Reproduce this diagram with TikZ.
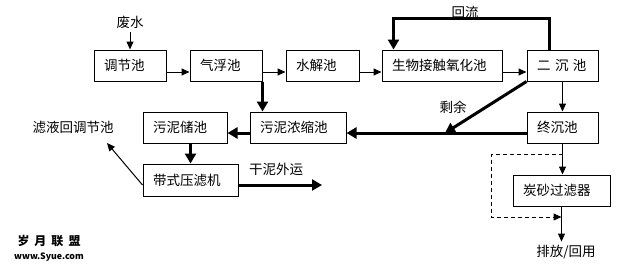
\documentclass[tikz,border=0pt]{standalone}
\usepackage{fontspec}
\setmainfont{Noto Sans CJK SC}
\usetikzlibrary{arrows.meta}

\begin{document}
\begin{tikzpicture}[x=1pt,y=-1pt,
    font=\fontsize{13.5}{16}\selectfont,
    box/.style={draw,line width=1pt,minimum height=31pt,inner xsep=10pt,
        text width=#1,align=left},
    flow/.style={line width=1pt,-{Triangle[length=8pt,width=7pt]}},
    sludge/.style={line width=3pt,-{Triangle[length=10pt,width=11pt]}},
    bypass/.style={flow,dash pattern=on 4pt off 3pt},
]
    \useasboundingbox (0,0) rectangle (624,268);

    % main line
    \node (feishui) at (130,22) {废水};
    \node[box=52pt] (tiaojie) at (130,65.5) {调节池};
    \node[box=52pt] (qifu) at (226,65.5) {气浮池};
    \node[box=53pt] (shuijie) at (322.5,65.5) {水解池};
    \node[box=100pt] (shengwu) at (442,65.5) {生物接触氧化池};
    \node[box=51pt] (erchen) at (562.5,65.5) {二 沉 池};
    \node[box=51pt] (zhongchen) at (562.5,127.5) {终沉池};
    \node[box=77pt] (tansha) at (561.5,190.5) {炭砂过滤器};
    \node (paifang) at (566,252) {排放/回用};

    % sludge line
    \node[box=76pt] (nongsuo) at (298,127.5) {污泥浓缩池};
    \node[box=64pt] (chuchi) at (185,127.5) {污泥储池};
    \node[box=75pt,minimum height=32pt] (yalv) at (190.5,180) {带式压滤机};
    \node (lvye) at (73,127) {滤液回调节池};
    \node (ganni) at (276,169) {干泥外运};
    \node (huiliu) at (465,12) {回流};
    \node (shengyu) at (453,107) {剩余};

    \node[font=\fontsize{12}{13}\selectfont\bfseries] (suiyue) at (49,241)
        {岁\hspace{5pt}月\hspace{5pt}联\hspace{5pt}盟};
    \node[font=\fontsize{8.8}{10}\selectfont\bfseries] (syue) at (49,257) {www.Syue.com};

    \coordinate (merge) at (445,133);
    \coordinate (lvyeend) at (107,143);
    \coordinate (waiyun) at (322,185);

    \draw[flow] (feishui) -- (tiaojie);
    \draw[flow] ([yshift=-6.5pt]tiaojie.east) -- ([yshift=-6.5pt]qifu.west);
    \draw[flow] ([yshift=-6.5pt]qifu.east) -- ([yshift=-6.5pt]shuijie.west);
    \draw[flow] ([yshift=-6.5pt]shuijie.east) -- ([yshift=-6.5pt]shengwu.west);
    \draw[flow] ([yshift=-6.5pt]shengwu.east) -- ([yshift=-6.5pt]erchen.west);
    \draw[sludge] ([xshift=23pt]erchen.north west) -- ++(0,-31)
        -| ([xshift=12pt]shengwu.north west);
    \draw[flow] (erchen) -- (zhongchen);
    \draw[flow] (zhongchen.south) -- (zhongchen.south |- tansha.north);
    \draw[bypass] (562.5,154) -| (491,217) -- (tansha.south |- 0,217);
    \draw[flow] (tansha.south) -- (tansha.south |- paifang.north);

    \draw[sludge] (erchen.south west) -- (merge);
    \draw[sludge] ([yshift=-5.5pt]zhongchen.west) -- ([yshift=-5.5pt]nongsuo.east);
    \draw[sludge] (qifu.south east) -- (qifu.south east |- nongsuo.north);
    \draw[sludge] ([yshift=-5.5pt]nongsuo.west) -- ([yshift=-5.5pt]chuchi.west -| chuchi.east);
    \draw[sludge] (yalv.north |- chuchi.south) -- (yalv.north);
    \draw[flow] ([yshift=-5pt]yalv.west) -- (lvyeend);
    \draw[sludge] ([yshift=-5pt]yalv.east) -- (waiyun);
\end{tikzpicture}
\end{document}
